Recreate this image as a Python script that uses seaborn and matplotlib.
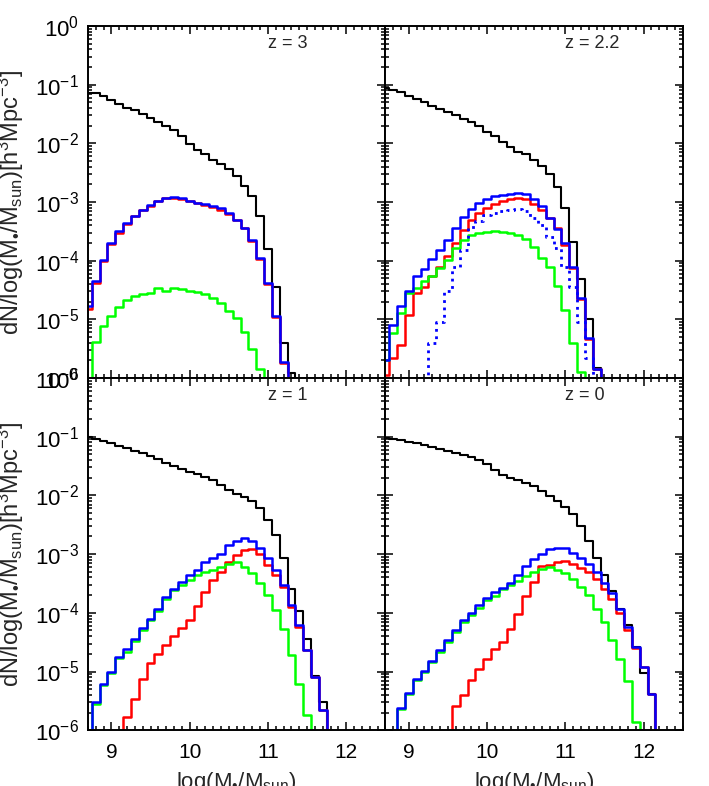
import numpy as np
import matplotlib
matplotlib.use("Agg")
import matplotlib.pyplot as plt
from matplotlib.ticker import MultipleLocator, LogLocator
import seaborn as sns

# bin centres, log(M*/Msun)
log_mass = [8.7, 8.8, 8.9, 9.0, 9.1, 9.2, 9.3, 9.4, 9.5, 9.6,
            9.7, 9.8, 9.9, 10.0, 10.1, 10.2, 10.3, 10.4, 10.5, 10.6,
            10.7, 10.8, 10.9, 11.0, 11.1, 11.2, 11.3, 11.4, 11.5, 11.6,
            11.7, 11.8, 11.9, 12.0, 12.1, 12.2, 12.3, 12.4]

# log10(dN/dlogM), None = empty bin
z3_black = [-1.14, -1.15, -1.20, -1.27, -1.33, -1.39, -1.44, -1.50, -1.57, -1.63,
            -1.70, -1.78, -1.88, -2.01, -2.11, -2.19, -2.28, -2.36, -2.44, -2.56,
            -2.73, -2.90, -3.23, -3.80, -4.45, -5.40, -5.91, None, None, None,
            None, None, None, None, None, None, None, None]
z3_red = [-4.82, -4.38, -4.01, -3.72, -3.52, -3.38, -3.24, -3.14, -3.06, -2.99,
          -2.94, -2.93, -2.95, -2.99, -3.02, -3.05, -3.08, -3.13, -3.20, -3.31,
          -3.45, -3.66, -3.97, -4.39, -4.96, -5.75, None, None, None, None,
          None, None, None, None, None, None, None, None]
z3_green = [None, -5.38, -5.12, -4.95, -4.79, -4.67, -4.61, -4.56, -4.55, -4.47,
            -4.52, -4.47, -4.48, -4.51, -4.54, -4.56, -4.64, -4.72, -4.86, -4.98,
            -5.21, -5.51, -5.85, None, None, None, None, None, None, None,
            None, None, None, None, None, None, None, None]
z3_blue = [-4.78, -4.35, -3.98, -3.70, -3.50, -3.36, -3.23, -3.13, -3.05, -2.98,
           -2.93, -2.92, -2.94, -2.98, -3.01, -3.03, -3.07, -3.11, -3.18, -3.30,
           -3.44, -3.64, -3.96, -4.38, -4.95, -5.73, None, None, None, None,
           None, None, None, None, None, None, None, None]

z22_black = [-1.06, -1.09, -1.13, -1.19, -1.24, -1.30, -1.36, -1.42, -1.47, -1.52,
             -1.58, -1.64, -1.71, -1.80, -1.88, -1.98, -2.07, -2.14, -2.19, -2.29,
             -2.39, -2.53, -2.74, -3.10, -3.69, -4.32, -4.99, -5.83, None, None,
             None, None, None, None, None, None, None, None]
z22_red = [-5.95, -5.66, -5.43, -4.92, -4.55, -4.44, -4.26, -4.10, -3.92, -3.70,
           -3.47, -3.30, -3.18, -3.10, -3.03, -2.98, -2.95, -2.93, -2.95, -3.03,
           -3.13, -3.28, -3.45, -3.73, -4.12, -4.65, -5.33, -5.84, None, None,
           None, None, None, None, None, None, None, None]
z22_green = [-5.69, -5.23, -4.89, -4.55, -4.47, -4.35, -4.26, -4.13, -3.98, -3.78,
             -3.65, -3.57, -3.53, -3.51, -3.50, -3.51, -3.53, -3.56, -3.63, -3.77,
             -3.96, -4.10, -4.43, -4.84, -5.40, -5.89, None, None, None, None,
             None, None, None, None, None, None, None, None]
z22_blue = [-5.69, -5.09, -4.78, -4.52, -4.26, -4.14, -3.97, -3.81, -3.64, -3.44,
            -3.26, -3.12, -3.02, -2.95, -2.90, -2.88, -2.86, -2.85, -2.86, -2.95,
            -3.07, -3.27, -3.46, -3.70, -4.11, -4.63, -5.32, -5.85, None, None,
            None, None, None, None, None, None, None, None]
z22_blue_dotted = [None, None, None, None, None, None, -5.40, -5.05, -4.52, -4.10,
                   -3.81, -3.42, -3.33, -3.22, -3.19, -3.16, -3.13, -3.12, -3.16, -3.27,
                   -3.39, -3.59, -3.78, -4.10, -4.44, -5.05, -5.66, None, None, None,
                   None, None, None, None, None, None, None, None]

z1_black = [-1.00, -1.03, -1.07, -1.11, -1.15, -1.20, -1.24, -1.28, -1.33, -1.38,
            -1.44, -1.50, -1.55, -1.60, -1.64, -1.69, -1.74, -1.82, -1.91, -1.98,
            -2.02, -2.09, -2.21, -2.42, -2.68, -3.07, -3.59, -3.97, -4.45, -5.07,
            -5.52, None, None, None, None, None, None, None]
z1_red = [None, None, None, None, None, -5.77, -5.46, -5.12, -4.86, -4.71,
          -4.55, -4.39, -4.26, -4.13, -3.88, -3.65, -3.44, -3.30, -3.14, -3.02,
          -2.93, -2.92, -2.99, -3.19, -3.36, -3.56, -3.90, -4.24, -4.64, -5.09,
          -5.66, None, None, None, None, None, None, None]
z1_green = [None, -5.55, -5.23, -5.02, -4.77, -4.66, -4.48, -4.30, -4.13, -3.97,
            -3.77, -3.61, -3.53, -3.44, -3.36, -3.30, -3.27, -3.22, -3.16, -3.13,
            -3.22, -3.33, -3.50, -3.70, -3.96, -4.27, -4.72, -5.21, -5.74, None,
            None, None, None, None, None, None, None, None]
z1_blue = [None, -5.52, -5.22, -5.01, -4.75, -4.61, -4.45, -4.26, -4.10, -3.93,
           -3.73, -3.59, -3.47, -3.36, -3.27, -3.14, -3.06, -2.99, -2.85, -2.78,
           -2.73, -2.78, -2.89, -3.07, -3.27, -3.52, -3.86, -4.20, -4.64, -5.09,
           -5.66, None, None, None, None, None, None, None]

z0_black = [-1.02, -1.03, -1.06, -1.09, -1.11, -1.14, -1.17, -1.21, -1.24, -1.27,
            -1.31, -1.35, -1.39, -1.46, -1.57, -1.65, -1.71, -1.74, -1.78, -1.84,
            -1.92, -2.01, -2.10, -2.19, -2.32, -2.52, -2.78, -3.07, -3.36, -3.62,
            -3.93, -4.21, -4.59, -5.03, -5.39, None, None, None]
z0_red = [None, None, None, None, None, None, None, None, None, -5.59,
          -5.40, -5.15, -4.95, -4.78, -4.61, -4.50, -4.28, -4.02, -3.71, -3.47,
          -3.21, -3.18, -3.13, -3.12, -3.16, -3.24, -3.31, -3.42, -3.59, -3.76,
          -4.01, -4.30, -4.60, -4.93, -5.39, None, None, None]
z0_green = [None, None, -5.64, -5.38, -5.14, -5.01, -4.84, -4.66, -4.50, -4.33,
            -4.15, -4.04, -3.91, -3.79, -3.71, -3.60, -3.53, -3.45, -3.38, -3.30,
            -3.26, -3.22, -3.27, -3.33, -3.43, -3.56, -3.70, -3.94, -4.15, -4.46,
            -4.78, -5.16, -5.86, None, None, None, None, None]
z0_blue = [None, None, -5.62, -5.36, -5.12, -4.99, -4.82, -4.64, -4.46, -4.29,
           -4.12, -4.00, -3.87, -3.75, -3.65, -3.57, -3.49, -3.36, -3.21, -3.09,
           -2.99, -2.92, -2.89, -2.90, -2.98, -3.06, -3.16, -3.30, -3.50, -3.67,
           -3.94, -4.24, -4.59, -4.92, -5.39, None, None, None]

panel_titles = ["z = 3", "z = 2.2", "z = 1", "z = 0"]
panel_series = [
    [z3_black, z3_red, z3_green, z3_blue, None],
    [z22_black, z22_red, z22_green, z22_blue, z22_blue_dotted],
    [z1_black, z1_red, z1_green, z1_blue, None],
    [z0_black, z0_red, z0_green, z0_blue, None],
]
line_colors = ["black", "#ff0000", "#00ff00", "#0000ff", "#0000ff"]
line_widths = [1.5, 1.8, 1.8, 1.8, 2.0]
line_styles = ["-", "-", "-", "-", ":"]

sns.set_style("ticks")
plt.rcParams["font.family"] = ["Liberation Sans", "DejaVu Sans"]
plt.rcParams["mathtext.fontset"] = "custom"
plt.rcParams["mathtext.rm"] = "Liberation Sans"
plt.rcParams["mathtext.it"] = "Liberation Sans:italic"
plt.rcParams["mathtext.bf"] = "Liberation Sans:bold"

fig, axes = plt.subplots(2, 2, figsize=(7.09, 7.86), dpi=100,
                         gridspec_kw=dict(left=0.124, right=0.963, top=0.967,
                                          bottom=0.071, hspace=0, wspace=0))

ylab = "dN/log(M$_{\u2022}$/M$_{\\rm sun}$)[h$^3$Mpc$^{-3}$]"
xlab = "log(M$_{\u2022}$/M$_{\\rm sun}$)"

for i, ax in enumerate(axes.flat):
    for vals, col, lw, ls in zip(panel_series[i], line_colors, line_widths, line_styles):
        if vals is None:
            continue
        dens = np.array([10.0 ** v if v is not None else 0.0 for v in vals])
        sns.lineplot(x=np.array(log_mass), y=dens, ax=ax, color=col, lw=lw,
                     linestyle=ls, drawstyle="steps-mid", estimator=None)
    ax.set_yscale("log")
    ax.set_ylim(1e-6, 1)
    ax.set_xlim(8.7, 12.5)
    ax.xaxis.set_major_locator(MultipleLocator(1))
    ax.xaxis.set_minor_locator(MultipleLocator(0.1))
    ax.yaxis.set_major_locator(LogLocator(base=10, numticks=10))
    ax.yaxis.set_minor_locator(LogLocator(base=10, subs=np.arange(2, 10), numticks=20))
    ax.tick_params(which="both", direction="in", top=True, right=True,
                   width=1.1, colors="black")
    ax.tick_params(which="major", length=5.5)
    ax.tick_params(which="minor", length=2.8)
    ax.tick_params(axis="x", pad=9, labelsize=15)
    ax.tick_params(axis="y", pad=6.5, labelsize=16)
    for sp in ax.spines.values():
        sp.set_linewidth(1.4)
        sp.set_color("black")
    ax.text(11.0, 0.5, panel_titles[i], ha="left", va="center", fontsize=13)
    ax.set_xlabel("")
    ax.set_ylabel("")
    row, col = divmod(i, 2)
    if row == 0:
        ax.tick_params(axis="x", labelbottom=False)
    else:
        ax.set_xlabel(xlab, fontsize=16, labelpad=6)
    if col == 1:
        ax.tick_params(axis="y", labelleft=False)
    else:
        ax.set_ylabel(ylab, fontsize=17, labelpad=6)

fig.savefig("out.png", dpi=100)
